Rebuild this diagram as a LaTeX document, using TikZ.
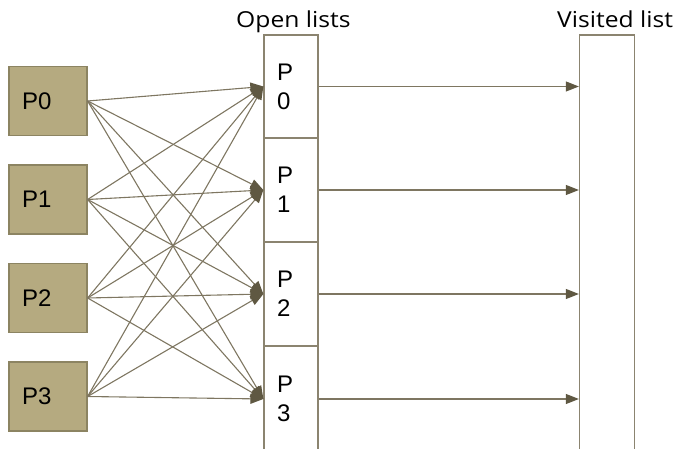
\documentclass[tikz,border=0pt]{standalone}
\usepackage{fontspec}
\setmainfont{Liberation Sans}
\newfontfamily\headfont[FakeStretch=1.12]{Open Sans}
\usetikzlibrary{arrows.meta}
\definecolor{boxfill}{HTML}{B5AA80}
\definecolor{boxline}{HTML}{8C8462}
\definecolor{edgec}{HTML}{7E7661}
\definecolor{tipc}{HTML}{5F5842}
\definecolor{colc}{HTML}{8B8470}
\begin{document}
\begin{tikzpicture}[x=1pt,y=-1pt,
  pbox/.style={draw=boxline,fill=boxfill,line width=1.2pt,minimum height=69pt,
    text width=52pt,inner xsep=13pt,inner ysep=0pt,align=left,
    font=\fontsize{24}{29}\selectfont,text=black},
  cell/.style={draw=colc,line width=1.3pt,minimum width=54pt,
    text width=28pt,inner xsep=13pt,inner ysep=0pt,align=left,
    font=\fontsize{24}{29}\selectfont,text=black},
  link/.style={draw=edgec,line width=1.1pt,-{Triangle[length=13pt,width=10pt,color=tipc]}},
  head/.style={font=\headfont\fontsize{22}{26}\selectfont,text=black,inner sep=0pt,anchor=base west},
]
\useasboundingbox (0,0) rectangle (678,449);
% boxes
\node[pbox] (p0) at (48,101) {P0};
\node[pbox] (p1) at (48,199.5) {P1};
\node[pbox] (p2) at (48,298) {P2};
\node[pbox] (p3) at (48,396.5) {P3};
% open list cells
\node[cell,minimum height=103pt] (c0) at (291,86.5) {P\\0};
\node[cell,minimum height=104pt] (c1) at (291,190) {P\\1};
\node[cell,minimum height=104pt] (c2) at (291,294) {P\\2};
\node[cell,minimum height=106pt] (c3) at (291,399) {P\\3};
% visited list
\node[draw=colc,line width=1.3pt,minimum width=55pt,minimum height=420pt,inner sep=0pt] (vis) at (607,245) {};
% headings
\node[head] (h1) at (236,28) {Open lists};
\node[head] (h2) at (557,28) {Visited list};
% links
\foreach \i in {0,1,2,3}{
  \foreach \j in {0,1,2,3}{
    \draw[link] (p\i.east) -- (c\j.west);
  }
  \draw[link] (c\i.east) -- (c\i.east -| vis.west);
}
\end{tikzpicture}
\end{document}
